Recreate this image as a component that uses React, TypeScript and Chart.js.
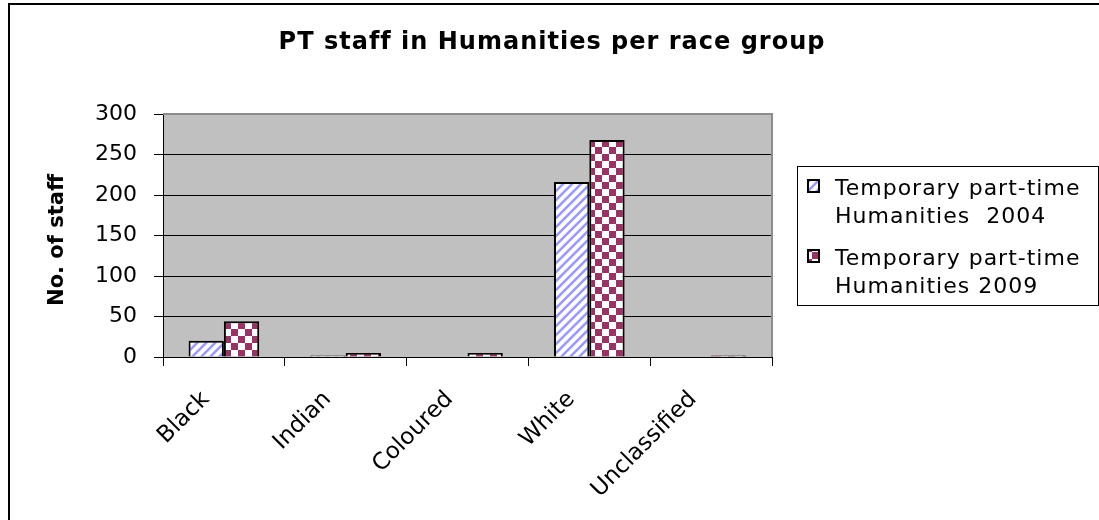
import React, { useEffect, useRef } from "react";
import { Chart, registerables } from "chart.js";

Chart.register(...registerables);

const categories = ["Black", "Indian", "Coloured", "White", "Unclassified"];
const series2004 = [20, 2, 0, 216, 0];
const series2009 = [44, 5, 5, 268, 2];
const legendLines2004 = ["Temporary part-time", "Humanities  2004"];
const legendLines2009 = ["Temporary part-time", "Humanities 2009"];
const chartTitle = "PT staff in Humanities per race group";
const yTitle = "No. of staff";

const W = 1099;
const H = 520;

function stripePattern(ctx: CanvasRenderingContext2D): CanvasPattern {
  const c = document.createElement("canvas");
  const s = 9;
  c.width = s;
  c.height = s;
  const g = c.getContext("2d")!;
  g.fillStyle = "#ffffff";
  g.fillRect(0, 0, s, s);
  g.strokeStyle = "#9999ff";
  g.lineWidth = 2.6;
  g.beginPath();
  for (let k = -1; k <= 1; k++) {
    g.moveTo(k * s - 1, s + 1);
    g.lineTo(k * s + s + 1, -1);
  }
  g.stroke();
  return ctx.createPattern(c, "repeat")!;
}

function checkerPattern(ctx: CanvasRenderingContext2D): CanvasPattern {
  const c = document.createElement("canvas");
  const s = 7;
  c.width = s * 2;
  c.height = s * 2;
  const g = c.getContext("2d")!;
  g.fillStyle = "#ffffff";
  g.fillRect(0, 0, s * 2, s * 2);
  g.fillStyle = "#993366";
  g.fillRect(0, 0, s, s);
  g.fillRect(s, s, s, s);
  return ctx.createPattern(c, "repeat")!;
}

export default function App() {
  const ref = useRef<HTMLCanvasElement | null>(null);

  useEffect(() => {
    document.body.style.margin = "0";
    const canvas = ref.current!;
    const ctx = canvas.getContext("2d")!;
    const p04 = stripePattern(ctx);
    const p09 = checkerPattern(ctx);

    const decor = {
      id: "decor",
      beforeDraw(chart: any) {
        const { ctx: c, chartArea: a } = chart;
        c.save();
        c.fillStyle = "#ffffff";
        c.fillRect(0, 0, W, H);
        c.fillStyle = "#c0c0c0";
        c.fillRect(a.left, a.top, a.right - a.left, a.bottom - a.top);
        c.restore();
      },
      beforeDatasetsDraw(chart: any) {
        const { ctx: c, chartArea: a } = chart;
        c.save();
        c.strokeStyle = "#8c8c8c";
        c.lineWidth = 2;
        c.beginPath();
        c.moveTo(a.left, a.top);
        c.lineTo(a.right, a.top);
        c.lineTo(a.right, a.bottom);
        c.stroke();
        c.restore();
      },
      afterDraw(chart: any) {
        const c: CanvasRenderingContext2D = chart.ctx;
        c.save();
        // outer frame
        c.strokeStyle = "#000";
        c.lineWidth = 2;
        c.strokeRect(9, 4, 1100, 540);
        // title
        c.fillStyle = "#000";
        c.font = "bold 24px 'DejaVu Sans'";
        c.textAlign = "center";
        c.textBaseline = "alphabetic";
        (c as any).letterSpacing = "1px";
        c.fillText(chartTitle, 552, 49);
        (c as any).letterSpacing = "0px";
        // y title
        c.save();
        c.translate(63, 240);
        c.rotate(-Math.PI / 2);
        c.font = "bold 21px 'DejaVu Sans'";
        c.textAlign = "center";
        c.fillText(yTitle, 0, 0);
        c.restore();
        // legend
        c.strokeStyle = "#000";
        c.lineWidth = 1;
        c.strokeRect(797.5, 166.5, 301, 139);
        const items = [
          { pat: p04, lines: legendLines2004, top: 180 },
          { pat: p09, lines: legendLines2009, top: 250 },
        ];
        c.font = "22px 'DejaVu Sans'";
        c.textAlign = "left";
        (c as any).letterSpacing = "1px";
        for (const it of items) {
          c.fillStyle = it.pat;
          c.fillRect(808, it.top, 11, 12);
          c.lineWidth = 2;
          c.strokeRect(808, it.top, 11, 12);
          c.fillStyle = "#000";
          c.fillText(it.lines[0], 835, it.top + 15);
          c.fillText(it.lines[1], 835, it.top + 43);
        }
        c.restore();
      },
    };

    const chart = new Chart(canvas, {
      type: "bar",
      data: {
        labels: categories,
        datasets: [
          {
            label: legendLines2004.join(" "),
            data: series2004,
            backgroundColor: p04,
            borderColor: "#000",
            borderWidth: 2,
            categoryPercentage: 0.58,
            barPercentage: 1,
          },
          {
            label: legendLines2009.join(" "),
            data: series2009,
            backgroundColor: p09,
            borderColor: "#000",
            borderWidth: 2,
            categoryPercentage: 0.58,
            barPercentage: 1,
          },
        ],
      },
      options: {
        animation: false,
        responsive: false,
        maintainAspectRatio: false,
        layout: { padding: { left: 9, top: 114, right: 327, bottom: 0 } },
        plugins: {
          legend: { display: false },
          title: { display: false },
          tooltip: { enabled: false },
        },
        scales: {
          x: {
            offset: true,
            afterFit(scale: any) {
              scale.height = 163;
            },
            grid: {
              display: true,
              drawOnChartArea: false,
              drawTicks: true,
              tickLength: 9,
              offset: true,
              color: "#000",
            },
            border: { color: "#000", width: 1 },
            ticks: {
              color: "#000",
              font: { family: "'DejaVu Sans'", size: 23 },
              maxRotation: 45,
              minRotation: 45,
              padding: 20,
              labelOffset: -18,
            },
          },
          y: {
            min: 0,
            max: 300,
            afterFit(scale: any) {
              scale.width = 154;
            },
            grid: {
              color: "#000",
              drawTicks: true,
              tickLength: 9,
            },
            border: { color: "#000", width: 1 },
            ticks: {
              stepSize: 50,
              color: "#000",
              font: { family: "'DejaVu Sans'", size: 22 },
              padding: 17,
            },
          },
        },
      },
      plugins: [decor],
    });
    return () => chart.destroy();
  }, []);

  return <canvas ref={ref} width={W} height={H} style={{ display: "block" }} />;
}
